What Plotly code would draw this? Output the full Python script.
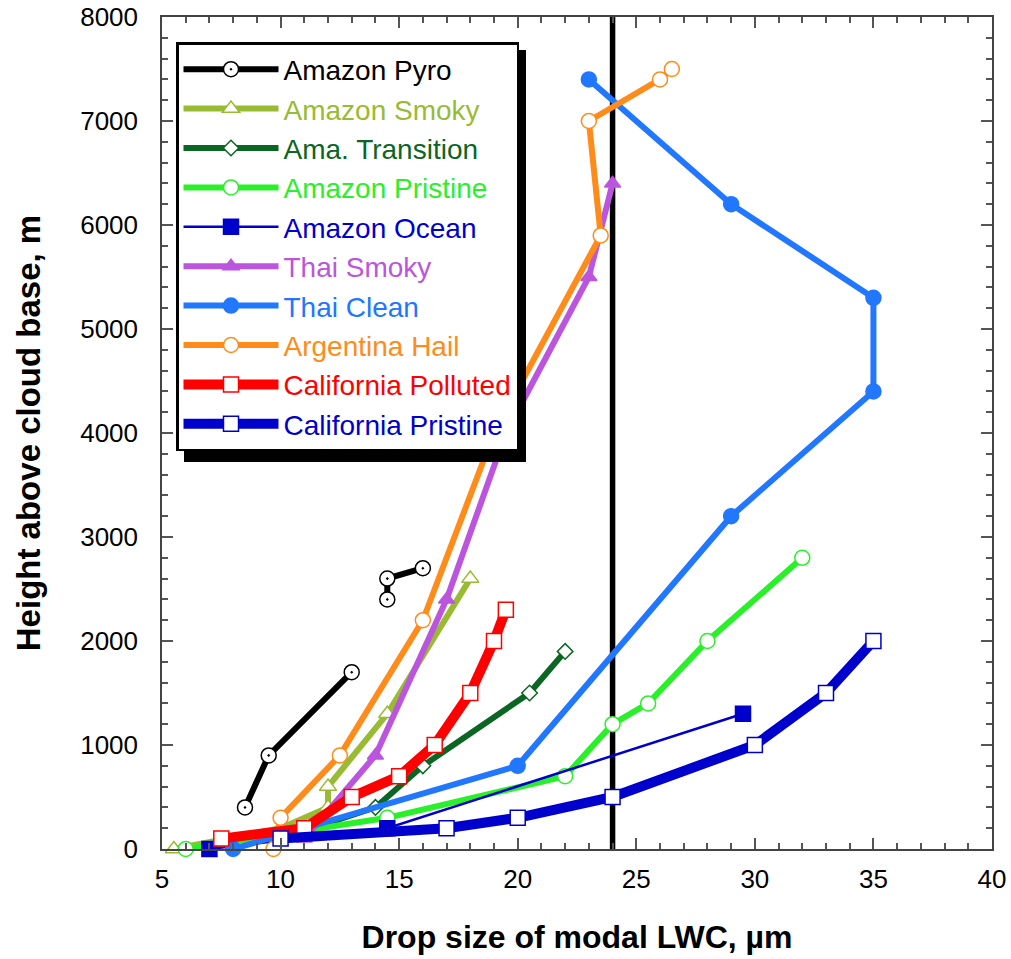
import plotly.graph_objects as go

# ---------------- data ----------------
pyro_x = [8.5, 9.5, 13, None, 14.5, 14.5, 16]
pyro_y = [400, 900, 1700, None, 2400, 2600, 2700]

smoky_x = [5.5, 10, 12, 12, 14.5, 18]
smoky_y = [0, 200, 400, 600, 1300, 2600]

trans_x = [10, 14, 16, 20.5, 22]
trans_y = [100, 400, 800, 1500, 1900]

pristine_x = [6, 14.5, 22, 24, 25.5, 28, 32]
pristine_y = [0, 300, 700, 1200, 1400, 2000, 2800]

ocean_x = [7, 14.5, 29.5]
ocean_y = [0, 200, 1300]

thai_smoky_x = [11, 14, 17, 19.5, 23, 24]
thai_smoky_y = [100, 900, 2400, 4000, 5500, 6400]

thai_clean_x = [8, 20, 29, 35, 35, 29, 23]
thai_clean_y = [0, 800, 3200, 4400, 5300, 6200, 7400]

hail_x = [9.7, 10, 12.5, 16, 19, 23.5, 23, 26, 26.5]
hail_y = [0, 300, 900, 2200, 4000, 5900, 7000, 7400, 7500]

calpol_x = [7.5, 11, 13, 15, 16.5, 18, 19, 19.5]
calpol_y = [100, 200, 500, 700, 1000, 1500, 2000, 2300]

calpri_x = [10, 17, 20, 24, 30, 33, 35]
calpri_y = [100, 200, 300, 500, 1000, 1500, 2000]

vline_x = [24, 24]
vline_y = [0, 8000]

x_ticks = [5, 10, 15, 20, 25, 30, 35, 40]
y_ticks = [0, 1000, 2000, 3000, 4000, 5000, 6000, 7000, 8000]

# ---------------- figure ----------------
FONT = "Liberation Sans, Arial, sans-serif"
fig = go.Figure()

series = [
    ("Amazon Pyro", pyro_x, pyro_y, "#000000", 6, "circle-dot", "white", 15),
    ("Amazon Smoky", smoky_x, smoky_y, "#99BB33", 6, "triangle-up", "white", 15),
    ("Ama. Transition", trans_x, trans_y, "#0B6623", 6, "diamond", "white", 12),
    ("Amazon Pristine", pristine_x, pristine_y, "#2AF02A", 6, "circle", "white", 15),
    ("Amazon Ocean", ocean_x, ocean_y, "#0000CC", 2.5, "square", "#0000CC", 15),
    ("Thai Smoky", thai_smoky_x, thai_smoky_y, "#BB55DD", 6, "triangle-up", "#BB55DD", 14),
    ("Thai Clean", thai_clean_x, thai_clean_y, "#2277FF", 6, "circle", "#2277FF", 15),
    ("Argentina Hail", hail_x, hail_y, "#FF8C1A", 6, "circle", "white", 15),
    ("California Polluted", calpol_x, calpol_y, "#FF0000", 10, "square", "white", 15),
    ("California Pristine", calpri_x, calpri_y, "#0000CC", 10, "square", "white", 15),
]

fig.add_trace(go.Scatter(x=vline_x, y=vline_y, mode="lines",
                         line=dict(color="black", width=5.5),
                         showlegend=False, hoverinfo="skip"))

for i, (name, xs, ys, col, lw, sym, fill, ms) in enumerate(series):
    fig.add_trace(go.Scatter(
        x=xs, y=ys, mode="lines+markers",
        name=f"<span style='color:{col}'>{name}</span>",
        legendgroup=f"g{i}",
        line=dict(color=col, width=lw),
        marker=dict(symbol=sym, size=ms, color=fill,
                    line=dict(color=col, width=1.5)),
        connectgaps=False, cliponaxis=False,
    ))

PL, PR, PT, PB = 162, 992, 17, 849   # plot area in window pixels


def px2x(px):
    return (px - PL) / (PR - PL)


def py2y(py):
    return (PB - py) / (PB - PT)


# legend drop shadow
fig.add_shape(type="rect", xref="paper", yref="paper",
              x0=px2x(184), x1=px2x(526), y0=py2y(462), y1=py2y(50),
              fillcolor="black", line=dict(width=0), layer="above")

axis_common = dict(
    showgrid=False, zeroline=False, showline=True, linecolor="#444444",
    linewidth=1.5, mirror="ticks", ticks="inside", ticklen=11, tickwidth=1.5,
    tickcolor="#555555", automargin=False, ticklabeloverflow="allow",
    tickfont=dict(family=FONT, size=26, color="black"),
)

fig.update_xaxes(range=[5, 40], tickvals=x_ticks, ticklabelstandoff=6,
                 minor=dict(dtick=1, ticks="inside", ticklen=6, tickcolor="#555555", tickwidth=1.5),
                 title=dict(text="<b>Drop size of modal LWC, \u00b5m</b>",
                            font=dict(family=FONT, size=32, color="black"), standoff=33),
                 **axis_common)
fig.update_yaxes(range=[0, 8000], tickvals=y_ticks, ticklabelstandoff=17,
                 minor=dict(dtick=200, ticks="inside", ticklen=6, tickcolor="#555555", tickwidth=1.5),
                 title=dict(text="<b>Height above cloud base, m</b>",
                            font=dict(family=FONT, size=33, color="black"), standoff=30),
                 **axis_common)

fig.update_layout(
    width=1011, height=959,
    margin=dict(l=PL, r=1011 - PR, t=PT, b=959 - PB),
    plot_bgcolor="white", paper_bgcolor="white",
    legend=dict(x=px2x(176), y=py2y(42), xanchor="left", yanchor="top",
                bgcolor="white", bordercolor="black", borderwidth=2.5,
                font=dict(family=FONT, size=28), tracegroupgap=0,
                itemwidth=95),
    showlegend=True,
)

fig.write_html("out.html", config={"displayModeBar": False},
               post_script="document.body.style.margin='0px';document.body.style.overflow='hidden';")
